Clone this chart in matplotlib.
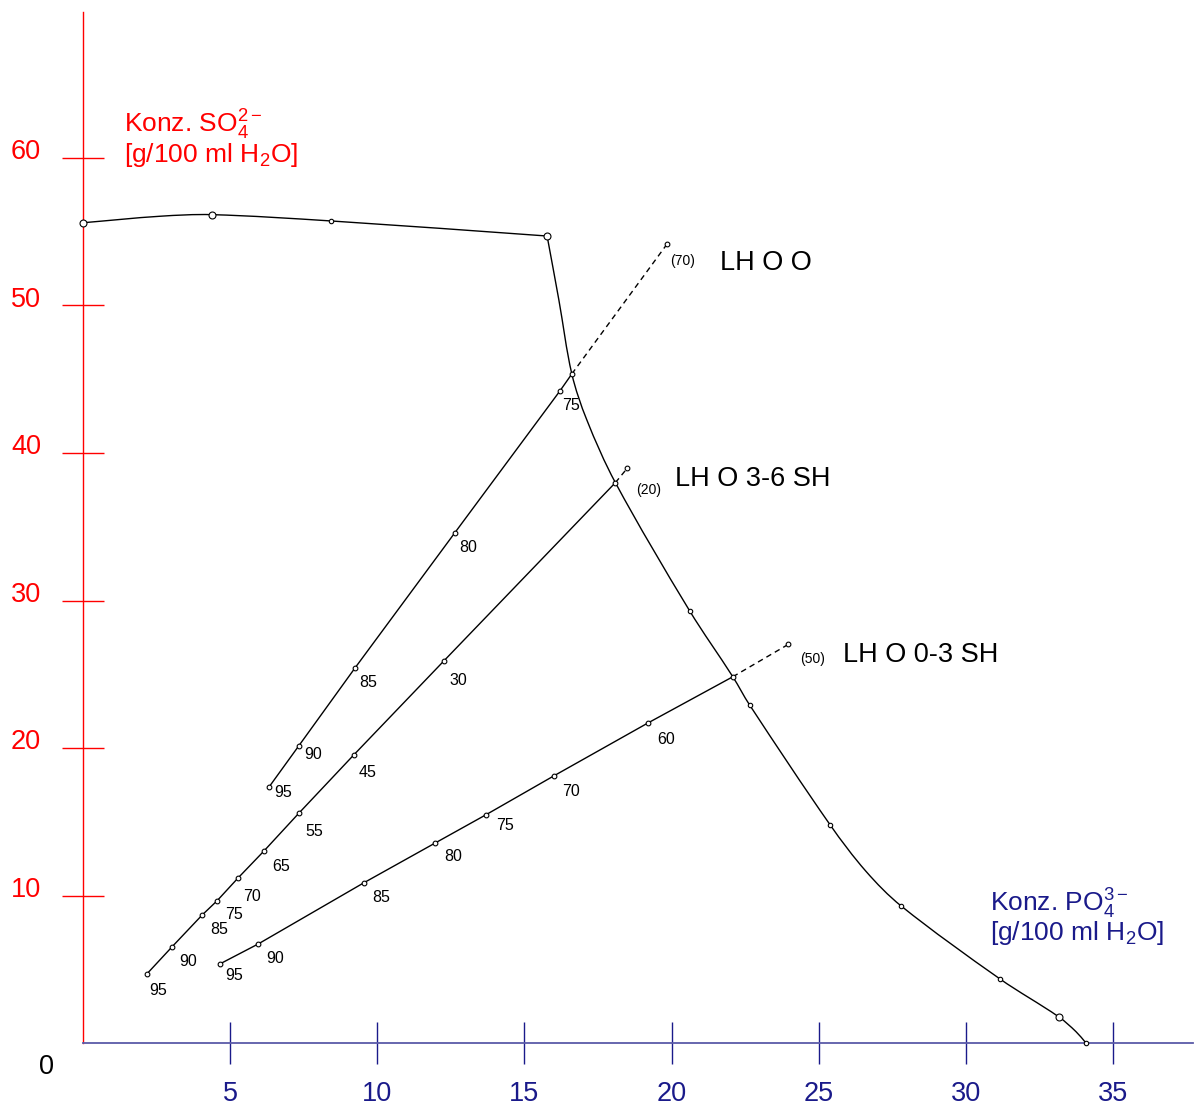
import numpy as np
import matplotlib.pyplot as plt
from matplotlib.path import Path
from matplotlib.patches import PathPatch

plt.rcParams['font.family'] = ['Liberation Sans', 'DejaVu Sans']
plt.rcParams['mathtext.fontset'] = 'custom'
plt.rcParams['mathtext.rm'] = 'Liberation Sans'
plt.rcParams['mathtext.it'] = 'Liberation Sans:italic'
plt.rcParams['mathtext.bf'] = 'Liberation Sans:bold'

RED = '#ff0000'
NAVY = '#1a1a8a'
AXBLUE = '#5b5ba8'

# --- solubility curve (path), two branches meeting at a corner ---
top_x = [0.0, 2.61, 4.37, 8.44, 15.77]
top_y = [55.61, 56.05, 56.16, 55.73, 54.71]
low_x = [15.77, 16.17, 16.61, 17.12, 18.09, 20.61, 22.08, 22.65, 25.39, 26.60,
         27.80, 31.16, 33.15, 33.74, 34.08]
low_y = [54.71, 50.37, 45.36, 42.24, 37.99, 29.31, 24.83, 22.92, 14.78, 11.65,
         9.29, 4.34, 1.78, 0.77, 0.0]
# marked points on the curve
big_x = [0.0, 4.37, 15.77, 33.15]
big_y = [55.61, 56.16, 54.71, 1.78]
small_x = [8.44, 20.61, 22.65, 25.39, 27.80, 31.16, 34.08]
small_y = [55.73, 29.31, 22.92, 14.78, 9.29, 4.34, 0.0]

# --- tie lines ---
loo_x = [6.33, 7.33, 9.24, 12.63, 16.21, 16.61, 19.84]
loo_y = [17.38, 20.14, 25.42, 34.58, 44.22, 45.36, 54.15]
loo_lbl = ['95', '90', '85', '80', '75', '', '(70)']

l36_x = [2.16, 3.03, 4.05, 4.55, 5.26, 6.15, 7.33, 9.20, 12.26, 18.09, 18.49]
l36_y = [4.66, 6.53, 8.68, 9.63, 11.17, 13.02, 15.57, 19.53, 25.90, 37.99, 38.96]
l36_lbl = ['95', '90', '85', '75', '70', '65', '55', '45', '30', '(20)', '']

l03_x = [4.67, 5.95, 9.55, 11.95, 13.68, 15.99, 19.19, 22.08, 23.97]
l03_y = [5.38, 6.71, 10.87, 13.54, 15.46, 18.10, 21.69, 24.83, 27.03]
l03_lbl = ['95', '90', '85', '80', '75', '70', '60', '', '(50)']

xticks = [5, 10, 15, 20, 25, 30, 35]
yticks = [10, 20, 30, 40, 50, 60]

PX_X, PX_Y = 29.43, 14.75   # pixels per data unit

fig = plt.figure(figsize=(11.94, 11.06), dpi=100)
ax = fig.add_axes([83 / 1194, 63 / 1106, 1110 / 1194, 1031 / 1106])
ax.set_xlim(0, 1110 / PX_X)
ax.set_ylim(0, 1031 / PX_Y)
ax.set_facecolor('none')

for s in ['top', 'right']:
    ax.spines[s].set_visible(False)
ax.spines['left'].set_color(RED)
ax.spines['left'].set_linewidth(1.0)
ax.spines['bottom'].set_color(AXBLUE)
ax.spines['bottom'].set_linewidth(1.3)

ax.set_xticks(xticks)
ax.set_yticks(yticks)
ax.tick_params(axis='y', direction='inout', length=30, width=1, colors=RED, labelleft=False)
ax.tick_params(axis='x', direction='inout', length=30, width=1, colors=NAVY, labelbottom=False)

for v in yticks:
    ax.text(-1.427, v - 0.09, str(v), color=RED, fontsize=19.5,
            ha='right', va='baseline', clip_on=False)
for v in xticks:
    ax.text(v, -3.95, str(v), color=NAVY, fontsize=19.5,
            ha='center', va='baseline', clip_on=False)
ax.text(-1.257, -2.10, '0', color='black', fontsize=19.5,
        ha='center', va='baseline', clip_on=False)

# axis titles
ax.text(1.39, 61.74, r'Konz. SO$_4^{2-}$', color=RED, fontsize=19, va='baseline')
ax.text(1.39, 59.71, r'[g/100 ml H$_2$O]', color=RED, fontsize=19, va='baseline')
ax.text(30.82, 8.90, r'Konz. PO$_4^{3-}$', color=NAVY, fontsize=19, va='baseline')
ax.text(30.82, 6.95, r'[g/100 ml H$_2$O]', color=NAVY, fontsize=19, va='baseline')


def smooth_path(xs, ys):
    # cubic Bezier through the read points, tangents from the neighbours
    P = np.column_stack([np.array(xs) * PX_X, np.array(ys) * PX_Y])
    n = len(P)
    tang = np.zeros_like(P)
    for i in range(n):
        if i == 0:
            d = P[1] - P[0]
        elif i == n - 1:
            d = P[-1] - P[-2]
        else:
            d = P[i + 1] - P[i - 1]
        tang[i] = d / np.linalg.norm(d)
    verts = [P[0]]
    codes = [Path.MOVETO]
    for i in range(n - 1):
        L = np.linalg.norm(P[i + 1] - P[i]) / 3
        verts += [P[i] + tang[i] * L, P[i + 1] - tang[i + 1] * L, P[i + 1]]
        codes += [Path.CURVE4] * 3
    verts = np.array(verts) / [PX_X, PX_Y]
    return Path(verts, codes)


for xs, ys in [(top_x, top_y), (low_x, low_y)]:
    ax.add_patch(PathPatch(smooth_path(xs, ys), fill=False, ec='black', lw=1.0,
                           clip_on=False, zorder=3))
ax.plot(big_x, big_y, 'o', ms=5, mfc='white', mec='black', mew=0.8, clip_on=False, zorder=4)
ax.plot(small_x, small_y, 'o', ms=3.2, mfc='white', mec='black', mew=0.8, clip_on=False, zorder=4)

# label offsets in pixels (right, down)
loo_off = [(14, 6), (14, 9), (13, 14), (13, 15), (11, 15), None, (16, 17)]
l36_off = [(12, 16), (16, 15), (17, 15), (17, 14), (14, 18), (17, 16),
           (16, 18), (14, 18), (15, 20), (33, 7), None]
l03_off = [(14, 12), (17, 14), (17, 15), (18, 13), (19, 11), (17, 15),
           (18, 16), None, (24, 15)]


def tie_line(xs, ys, labels, offs, split):
    ax.plot(xs[:split + 1], ys[:split + 1], color='black', lw=1.0, zorder=3)
    ax.plot(xs[split:], ys[split:], color='black', lw=1.0, ls=(0, (4, 3)), zorder=3)
    ax.plot(xs, ys, 'o', ms=3.4, mfc='white', mec='black', mew=0.8, zorder=4)
    for x, y, t, o in zip(xs, ys, labels, offs):
        if not t:
            continue
        fs = 10 if t.startswith('(') else 11.5
        ax.annotate(t, (x, y), xytext=(o[0] * 0.72, -o[1] * 0.72),
                    textcoords='offset points', ha='center', va='center',
                    fontsize=fs, color='black')


tie_line(loo_x, loo_y, loo_lbl, loo_off, 5)
tie_line(l36_x, l36_y, l36_lbl, l36_off, 9)
tie_line(l03_x, l03_y, l03_lbl, l03_off, 7)

ax.text(21.64, 52.41, 'LH O O', fontsize=19.5, va='baseline')
ax.text(20.12, 37.76, 'LH O 3-6 SH', fontsize=19.5, va='baseline')
ax.text(25.83, 25.81, 'LH O 0-3 SH', fontsize=19.5, va='baseline')

fig.savefig('out.png', dpi=100)
